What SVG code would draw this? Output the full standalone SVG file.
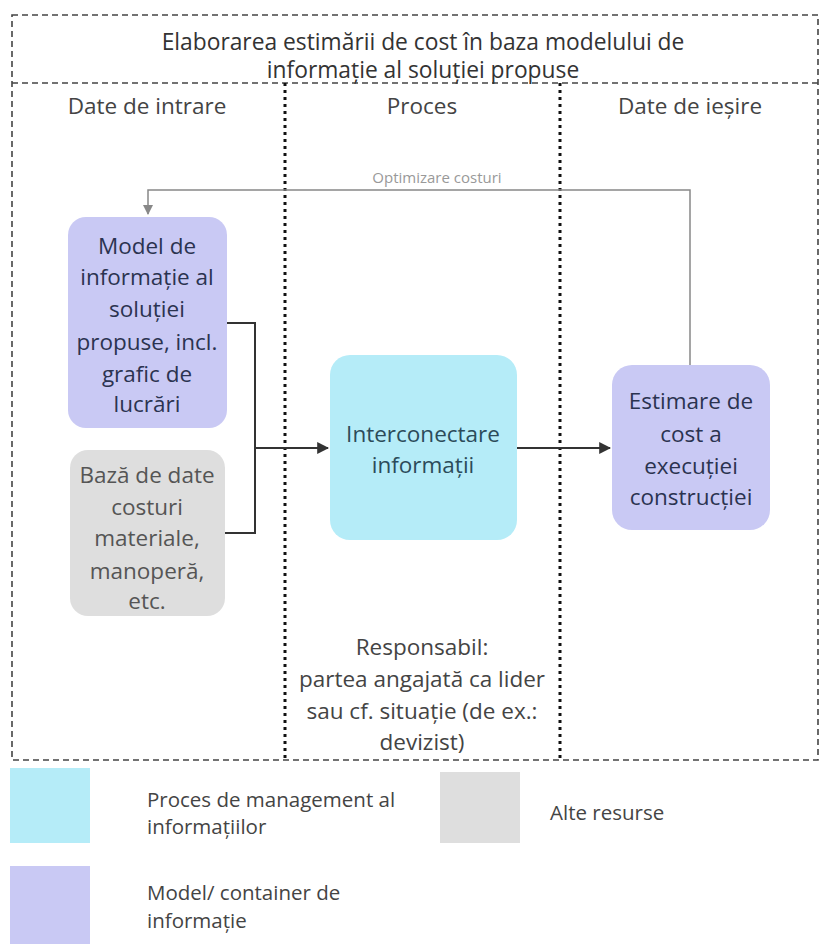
<svg xmlns="http://www.w3.org/2000/svg" width="823" height="944" viewBox="0 0 823 944">
  <style>
    text { font-family: "Open Sans", "Noto Sans", "DejaVu Sans", sans-serif; text-anchor: middle; }
    .frame { fill: none; stroke: #444; stroke-width: 1.6; stroke-dasharray: 6 4; }
    .divider { fill: none; stroke: #111; stroke-width: 3; stroke-dasharray: 3 4; }
    .title { font-size: 22.8px; fill: #333; }
    .head { font-size: 22.5px; fill: #444; }
    .lbl { font-size: 22.5px; }
    .model { fill: #c9c9f4; }
    .proc { fill: #b5ecf8; }
    .other { fill: #dedede; }
    .t-model { fill: #2b3350; }
    .t-proc { fill: #2c4b5a; }
    .t-other { fill: #555; }
    .t-note { fill: #444; }
    .legend { font-size: 20.5px; fill: #444; text-anchor: start; }
    .conn { fill: none; stroke: #333; stroke-width: 2; }
    .loop { fill: none; stroke: #888; stroke-width: 1.5; }
    .loop-lbl { font-size: 15px; fill: #999; }
  </style>
  <defs>
    <marker id="arrow" viewBox="0 0 10 10" refX="9" refY="5" markerWidth="6" markerHeight="6" orient="auto" markerUnits="strokeWidth">
      <path d="M0,0 L10,5 L0,10 z" fill="#333"/>
    </marker>
    <marker id="arrow-gray" viewBox="0 0 10 10" refX="9" refY="5" markerWidth="7" markerHeight="7" orient="auto" markerUnits="strokeWidth">
      <path d="M0,0 L10,5 L0,10 z" fill="#888"/>
    </marker>
  </defs>

  <!-- swimlane frame -->
  <g id="frame">
    <rect class="frame" x="12" y="15" width="806" height="745"/>
    <line class="frame" x1="12" y1="83" x2="818" y2="83"/>
    <line class="divider" x1="285" y1="83" x2="285" y2="760"/>
    <line class="divider" x1="560" y1="83" x2="560" y2="760"/>
    <text class="title" x="423" y="50">Elaborarea estimării de cost în baza modelului de</text>
    <text class="title" x="423" y="78">informație al soluției propuse</text>
    <text class="head" x="147" y="114">Date de intrare</text>
    <text class="head" x="422" y="114">Proces</text>
    <text class="head" x="690" y="114">Date de ieșire</text>
  </g>

  <!-- connectors -->
  <g id="connectors">
    <path class="loop" d="M690,365 V190 H148 V214" marker-end="url(#arrow-gray)"/>
    <text class="loop-lbl" x="437" y="183">Optimizare costuri</text>
    <path class="conn" d="M227,323 H255 V533 H225"/>
    <path class="conn" d="M255,448 H328" marker-end="url(#arrow)"/>
    <path class="conn" d="M517,448 H610" marker-end="url(#arrow)"/>
  </g>

  <g id="model-info">
    <rect class="model" x="68" y="217" width="159" height="211" rx="18"/>
    <text class="lbl t-model" x="147" y="254">Model de</text>
    <text class="lbl t-model" x="147" y="285">informație al</text>
    <text class="lbl t-model" x="147" y="317">soluției</text>
    <text class="lbl t-model" x="147" y="350">propuse, incl.</text>
    <text class="lbl t-model" x="147" y="382">grafic de</text>
    <text class="lbl t-model" x="147" y="412">lucrări</text>
  </g>

  <g id="cost-db">
    <rect class="other" x="70" y="450" width="155" height="166" rx="18"/>
    <text class="lbl t-other" x="147" y="483">Bază de date</text>
    <text class="lbl t-other" x="147" y="515">costuri</text>
    <text class="lbl t-other" x="147" y="546">materiale,</text>
    <text class="lbl t-other" x="147" y="579">manoperă,</text>
    <text class="lbl t-other" x="147" y="609">etc.</text>
  </g>

  <g id="interconnect">
    <rect class="proc" x="330" y="355" width="187" height="185" rx="20"/>
    <text class="lbl t-proc" x="423" y="442">Interconectare</text>
    <text class="lbl t-proc" x="423" y="473">informații</text>
  </g>

  <g id="cost-estimate">
    <rect class="model" x="612" y="365" width="158" height="165" rx="20"/>
    <text class="lbl t-model" x="691" y="409">Estimare de</text>
    <text class="lbl t-model" x="691" y="442">cost a</text>
    <text class="lbl t-model" x="691" y="474">execuției</text>
    <text class="lbl t-model" x="691" y="505">construcției</text>
  </g>

  <g id="responsible">
    <text class="lbl t-note" x="422" y="655">Responsabil:</text>
    <text class="lbl t-note" x="422" y="687">partea angajată ca lider</text>
    <text class="lbl t-note" x="422" y="719">sau cf. situație (de ex.:</text>
    <text class="lbl t-note" x="422" y="750">devizist)</text>
  </g>

  <!-- legend -->
  <g id="legend">
    <rect class="proc" x="10" y="768" width="80" height="75"/>
    <text class="legend" x="147" y="807">Proces de management al</text>
    <text class="legend" x="147" y="834">informațiilor</text>
    <rect class="other" x="440" y="772" width="80" height="71"/>
    <text class="legend" x="550" y="820">Alte resurse</text>
    <rect class="model" x="10" y="866" width="80" height="78"/>
    <text class="legend" x="147" y="900">Model/ container de</text>
    <text class="legend" x="147" y="928">informație</text>
  </g>
</svg>
